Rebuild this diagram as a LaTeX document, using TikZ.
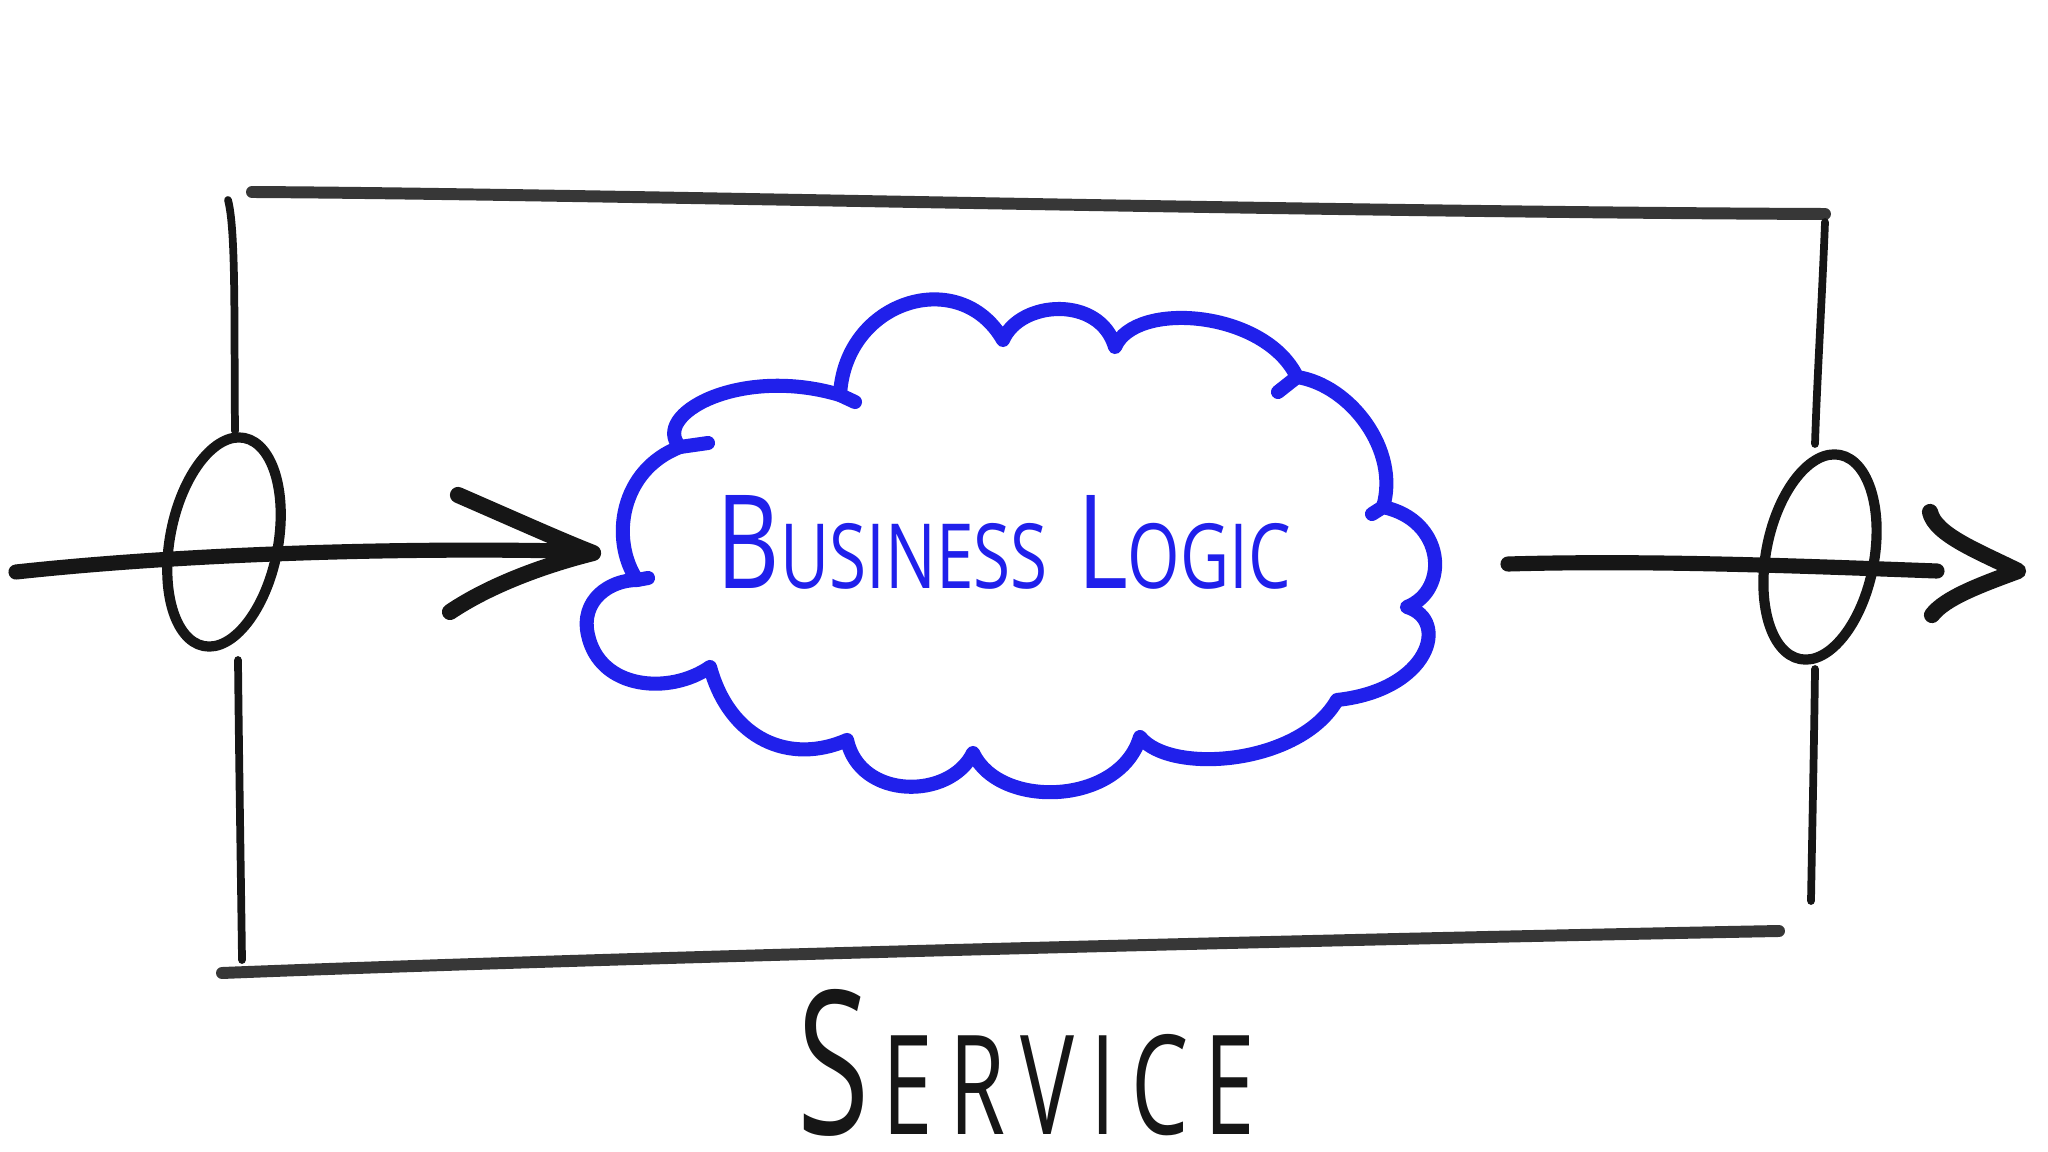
\documentclass[tikz,border=0pt]{standalone}
\usepackage{fontspec}
\setmainfont{Open Sans}
\usepackage{graphicx}
\definecolor{penblue}{RGB}{32,32,235}
\definecolor{ink}{RGB}{22,22,22}
\definecolor{boxink}{RGB}{55,55,55}
\newcommand\hsc[1]{{\fontsize{6.9pt}{8pt}\selectfont #1}}
\begin{document}
\begin{tikzpicture}[x=0.01cm,y=-0.01cm,line cap=round,line join=round,
  boxline/.style={draw=boxink,line width=3.4pt},
  sideline/.style={draw=ink,line width=2.2pt},
  portring/.style={draw=ink,line width=2.9pt},
  flowline/.style={draw=ink,line width=4.3pt},
  cloudline/.style={draw=penblue,line width=4pt},
  lbl/.style={inner sep=0pt,anchor=base west}]
\useasboundingbox (0,0) rectangle (2048,1152);
\fill[white] (0,0) rectangle (2048,1152);

% ---- service box ----
\coordinate (tl) at (252,192);
\coordinate (tr) at (1825,214);
\coordinate (bl) at (222,973);
\coordinate (br) at (1779,931);
\coordinate (lv1) at (228,200);
\coordinate (lv2) at (235,431);
\coordinate (lv3) at (238,660);
\coordinate (lv4) at (242,960);
\coordinate (rv1) at (1825,222);
\coordinate (rv2) at (1815,444);
\coordinate (rv3) at (1815,669);
\coordinate (rv4) at (1811,901);
\draw[boxline] (tl) .. controls (600,194) and (1300,212) .. (tr);
\draw[boxline] (bl) .. controls (600,958) and (1300,940) .. (br);
\draw[sideline] (lv1) .. controls (236,230) and (234,320) .. (lv2);
\draw[sideline] (lv3) .. controls (239,760) and (241,880) .. (lv4);
\draw[sideline] (rv1) .. controls (1822,300) and (1817,380) .. (rv2);
\draw[sideline] (rv3) .. controls (1814,750) and (1812,840) .. (rv4);

% ---- ports ----
\coordinate (pl) at (224,542);
\coordinate (pr) at (1820,557);
\draw[portring,rotate around={-11:(pl)}] (pl) ellipse [x radius=54,y radius=106];
\draw[portring,rotate around={-11:(pr)}] (pr) ellipse [x radius=54,y radius=104];

% ---- cloud ----
\coordinate (cA) at (840,395);
\coordinate (cB) at (1003,340);
\coordinate (cC) at (1115,347);
\coordinate (cD) at (1297,377);
\coordinate (cE) at (1383,507);
\coordinate (cF) at (1407,607);
\coordinate (cG) at (1337,700);
\coordinate (cH) at (1140,737);
\coordinate (cI) at (973,753);
\coordinate (cJ) at (847,740);
\coordinate (cK) at (710,667);
\coordinate (cW) at (588,635);
\coordinate (cL) at (637,580);
\coordinate (cM) at (680,447);
\draw[cloudline] (cA) .. controls (845,300) and (960,265) .. (cB)
  .. controls (1020,300) and (1100,295) .. (cC)
  .. controls (1135,300) and (1265,310) .. (cD)
  .. controls (1350,385) and (1400,450) .. (cE)
  .. controls (1445,520) and (1450,590) .. (cF)
  .. controls (1450,620) and (1430,690) .. (cG)
  .. controls (1300,765) and (1170,775) .. (cH)
  .. controls (1120,805) and (1000,810) .. (cI)
  .. controls (950,800) and (860,800) .. (cJ)
  .. controls (790,765) and (730,740) .. (cK)
  .. controls (670,695) and (600,690) .. (cW)
  .. controls (580,600) and (610,580) .. (cL)
  .. controls (610,540) and (620,470) .. (cM)
  .. controls (650,415) and (740,365) .. (cA);
\draw[cloudline] (cM) -- (708,443);
\draw[cloudline] (cL) -- (648,578);
\draw[cloudline] (cA) -- (855,402);
\draw[cloudline] (cD) -- (1278,392);
\draw[cloudline] (cE) -- (1372,514);

% ---- input arrow ----
\coordinate (inS) at (16,572);
\coordinate (inE) at (565,551);
\coordinate (inTip) at (593,553);
\coordinate (inU) at (458,495);
\coordinate (inD) at (450,612);
\draw[flowline] (inS) .. controls (200,552) and (420,548) .. (inE);
\draw[flowline,line width=4.6pt] (inU) .. controls (520,522) and (560,540) .. (inTip)
  .. controls (545,565) and (490,585) .. (inD);

% ---- output arrow ----
\coordinate (outS) at (1508,564);
\coordinate (outE) at (1937,571);
\coordinate (outTip) at (2018,571);
\coordinate (outU) at (1930,512);
\coordinate (outD) at (1932,615);
\draw[flowline] (outS) .. controls (1650,560) and (1800,566) .. (outE);
\draw[flowline,line width=4.6pt] (outU) .. controls (1935,535) and (1980,552) .. (outTip)
  .. controls (1980,585) and (1945,598) .. (outD);

% ---- labels ----
\node[lbl,text=penblue] (logic) at (716,588)
  {\resizebox{5.74cm}{0.93cm}{B\hsc{USINESS}\hspace{3pt}L\hsc{OGIC}}};
\node[lbl,text=ink] (service) at (797,1134)
  {\resizebox{4.57cm}{1.45cm}{S\kern1pt\hsc{E\kern1.2pt R\kern1.2pt V\kern1.2pt I\kern1.2pt C\kern1.2pt E}}};
\end{tikzpicture}
\end{document}
